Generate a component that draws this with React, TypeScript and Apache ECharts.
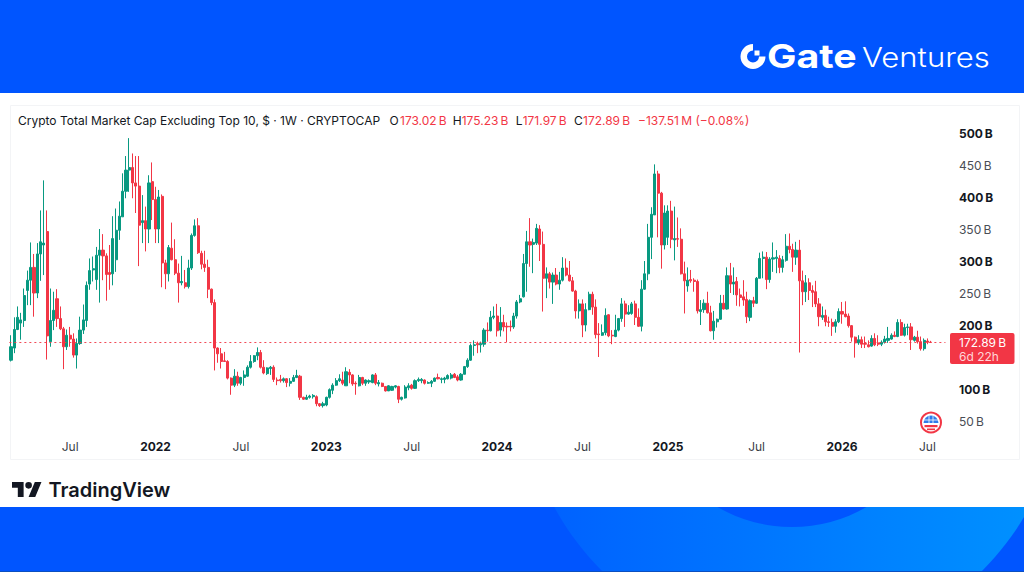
import React, { useEffect, useRef } from "react";
import * as echarts from "echarts";

// Weekly candles as [open, close, low, high], in billions of dollars
const candles2021 = [
  [145,166,143,184],[164,193,156,212],[193,212,192,229],[203,208,177,219],[207,246,197,257],[254,270,231,285],[270,290,231,329],[290,250,213,311],[250,311,242,328],[311,330,269,379],
  [325,328,278,426],[346,183,146,379],[174,207,166,257],[207,223,192,252],[241,210,197,256],[210,194,192,229],[194,166,131,197],[166,184,161,193],[184,178,166,197],[178,153,149,187],
  [153,171,132,179],[171,192,169,213],[192,208,186,232],[207,262,197,268],[264,285,255,304],[286,288,268,307],[271,309,255,322],[309,317,235,350],[317,308,270,342],[308,279,238,312],
  [282,279,255,325],[280,335,262,370],[302,348,283,382],[348,370,333,393],[369,409,369,437],[409,442,398,464],[442,446,408,492],[446,422,398,468],[422,417,375,464],[417,356,292,464],
  [360,363,328,403],[363,350,315,385],[350,422,328,434],[424,396,364,454],
];
const candles2022 = [
  [396,350,328,416],[350,400,328,411],[401,297,259,404],[297,280,256,302],[280,321,268,325],[320,302,301,360],[302,281,278,334],[281,266,235,296],[266,268,262,308],[266,260,257,286],
  [260,289,257,302],[289,340,286,343],[340,355,338,365],[355,313,311,367],[312,295,287,316],[295,290,283,316],[290,256,242,302],[256,235,231,257],[235,164,129,240],[164,155,141,165],
  [155,143,132,164],[144,143,143,158],[143,117,115,145],[117,106,91,118],[106,120,103,131],[120,109,105,127],[109,118,106,119],[118,122,105,129],[120,134,119,137],[134,143,132,153],
  [143,152,141,153],[152,157,145,165],[157,134,132,161],[134,125,123,145],[124,133,122,134],[132,134,122,136],[134,115,111,137],[114,113,106,118],[115,113,110,122],[113,116,110,118],
  [116,110,103,117],[109,112,104,117],[112,118,111,122],[118,121,117,130],[120,87,83,122],[87,84,83,88],[84,87,83,91],[87,89,85,91],[88,90,85,92],[88,77,73,90],
  [77,74,72,78],[74,77,71,80],
];
const candles2023 = [
  [75,87,73,88],[87,99,85,101],[98,106,92,109],[106,113,105,117],[113,116,111,123],[114,109,106,127],[105,127,105,134],[126,122,109,131],[122,108,105,123],[109,108,91,112],
  [105,118,104,122],[118,109,106,119],[109,114,105,115],[111,113,108,115],[110,122,109,123],[122,109,106,125],[108,110,104,114],[109,104,103,110],[104,97,96,104],[97,105,97,106],
  [98,104,97,105],[103,105,101,106],[104,84,78,105],[84,87,82,88],[86,103,85,106],[102,105,98,109],[106,101,99,108],[101,113,100,115],[113,115,111,118],[113,115,109,117],
  [114,109,107,115],[109,110,108,112],[109,112,103,114],[112,117,111,118],[118,116,115,124],[115,116,109,118],[115,117,109,119],[116,121,115,123],[117,122,115,125],[123,118,117,125],
  [119,114,112,122],[114,123,113,125],[123,135,123,136],[135,145,133,148],[145,168,144,171],[168,169,152,176],[171,169,156,174],[169,171,157,174],[170,192,166,195],[192,191,174,204],
  [191,212,190,222],[212,214,209,229],
];
const candles2024 = [
  [214,191,182,233],[192,204,182,228],[204,197,190,216],[198,197,173,204],[198,197,190,207],[197,214,194,219],[214,236,210,239],[236,241,234,247],[244,296,243,311],[296,330,252,347],
  [330,325,291,367],[326,329,281,335],[328,351,325,358],[350,326,300,356],[326,273,221,346],[273,280,242,290],[280,267,257,283],[267,278,233,282],[278,264,262,289],[264,270,255,283],
  [270,289,268,306],[289,278,276,304],[278,269,268,300],[269,253,252,275],[253,222,210,255],[222,233,210,240],[233,200,181,240],[200,224,190,234],[224,248,223,252],[248,228,216,252],
  [228,185,179,240],[186,185,150,203],[184,188,183,201],[188,215,184,226],[216,183,181,217],[184,183,170,192],[182,192,181,216],[192,210,190,211],[210,233,205,242],[233,217,197,238],
  [217,220,216,231],[218,233,216,236],[233,212,200,238],[212,198,197,226],[198,256,190,270],[256,280,255,300],[280,337,270,358],[337,373,303,384],[372,436,372,451],[436,406,337,441],
  [406,325,288,408],[325,375,318,387],
];
const candles2025 = [
  [337,378,325,387],[378,334,320,394],[333,335,301,385],[335,334,322,368],[334,280,279,351],[280,269,218,299],[261,270,252,290],[271,269,266,286],[270,268,252,273],[268,222,218,271],
  [221,224,200,239],[224,234,219,240],[234,219,218,252],[219,191,190,230],[191,206,177,222],[205,209,196,210],[209,234,208,247],[234,225,224,247],[225,277,224,290],[277,264,250,297],
  [264,267,247,290],[268,247,230,275],[247,243,229,257],[244,239,230,270],[240,213,203,252],[212,238,206,240],[238,234,228,244],[234,273,233,275],[273,304,273,313],[304,306,273,315],
  [306,271,256,314],[271,303,266,306],[303,305,283,329],[304,306,281,317],[304,290,281,309],[290,302,282,308],[301,323,299,342],[323,318,312,343],[318,306,283,327],[306,317,294,330],
  [317,269,157,333],[269,252,231,285],[252,266,236,278],[266,254,239,273],[254,251,228,262],[252,233,228,269],[233,213,198,242],[212,215,208,229],[215,205,198,224],[205,204,197,213],
  [204,198,183,210],[198,205,188,209],[205,221,203,226],
];
const candles2026 = [
  [221,217,202,236],[217,213,212,237],[214,199,196,218],[199,181,174,200],[181,172,149,182],[172,177,169,184],[177,170,164,182],[171,170,164,182],[169,166,165,176],[167,179,166,184],
  [179,169,167,187],[172,170,167,184],[170,173,167,176],[173,178,171,183],[176,179,172,197],[178,184,177,187],[184,182,181,190],[182,204,181,209],[204,184,183,209],[184,196,182,202],
  [196,197,184,202],[197,177,161,203],[176,181,174,183],[181,174,171,191],[174,163,160,182],[163,176,160,179],[175,173,170,179],[173.02,172.89,171.97,175.23],
];
const candles = [...candles2021, ...candles2022, ...candles2023, ...candles2024, ...candles2025, ...candles2026];

const emptyWeeksAtRight = 4;
const tickWeeks = [18, 44, 70, 96, 122, 148, 174, 200, 227, 253, 279];
const tickLabels = ["Jul", "2022", "Jul", "2023", "Jul", "2024", "Jul", "2025", "Jul", "2026", "Jul"];
const categories = Array.from({ length: candles.length + emptyWeeksAtRight }, (_, i) => {
  const t = tickWeeks.indexOf(i);
  return t >= 0 ? tickLabels[t] : "";
});

const lastClose = 172.89;
const titleText = "Crypto Total Market Cap Excluding Top 10, $ · 1W · CRYPTOCAP";
const ohlcLetters = ["O", "H", "L", "C"];
const ohlcValues = ["173.02\u202fB", "175.23\u202fB", "171.97\u202fB", "172.89\u202fB"];
const changeText = "−137.51\u202fM (−0.08%)";

const BLUE = "#0055FF";
const UP = "#089981";
const DOWN = "#F23645";
const FONT = "Inter";

const TV_MARK = "M14 22H7V11H0V4h14v18zM28 22h-8l7.5-18h8L28 22zM16 8a4 4 0 1 0 8 0a4 4 0 1 0-8 0z";
const GATE_MARK = "M12.5 0A12.5 12.5 0 1 0 25 12.5H18.5A6 6 0 1 1 12.5 6.5ZM14 6.5H19V11.5H14Z";

function textEl(x: number, y: number, text: string, fill: string, fontSize = 12, fontWeight: any = 400, extra: any = {}) {
  return {
    type: "text", x, y,
    style: { text, fill, fontFamily: FONT, fontSize, fontWeight, textVerticalAlign: "middle", textAlign: "left", ...extra },
  };
}

export default function App() {
  const ref = useRef<HTMLDivElement>(null);
  useEffect(() => {
    const Tv = (echarts.graphic as any).extendPath(TV_MARK, {});
    const Gate = (echarts.graphic as any).extendPath(GATE_MARK, {});
    echarts.graphic.registerShape("tvMark", Tv);
    echarts.graphic.registerShape("gateMark", Gate);

    const chart = echarts.init(ref.current!, undefined, { renderer: "svg" });
    const headerX = [389.5, 452.7, 515.7, 574];
    const valueX = [400, 461.7, 522.7, 583];
    chart.setOption({
      animation: false,
      backgroundColor: "#fff",
      graphic: [
        // bottom band
        { type: "rect", z: -10, shape: { x: 0, y: 507, width: 1024, height: 65 }, style: { fill: BLUE } },
        {
          type: "circle", z: -9, shape: { cx: 792, cy: 379, r: 270 },
          style: {
            fill: new echarts.graphic.LinearGradient(0, 0, 1, 0, [
              { offset: 0, color: "#005FFF" },
              { offset: 1, color: "#0094FF" },
            ]),
          },
        },
        { type: "circle", z: -8, shape: { cx: 792, cy: 378, r: 149 }, style: { fill: BLUE } },
        { type: "rect", z: -7, shape: { x: 0, y: 93, width: 1024, height: 414 }, style: { fill: "#fff" } },
        { type: "rect", z: -6, shape: { x: 0, y: 0, width: 1024, height: 93 }, style: { fill: BLUE } },
        { type: "rect", z: -6, shape: { x: 0, y: 571, width: 1024, height: 1 }, style: { fill: "#0B4FC0" } },
        // chart pane frame
        { type: "rect", z: -5, shape: { x: 10.5, y: 105.5, width: 1009, height: 354 }, style: { fill: "#fff", stroke: "#F3F4F6", lineWidth: 1 } },
        // logos
        { type: "gateMark", z: 5, x: 740.5, y: 44, style: { fill: "#fff" } },
        { ...textEl(0, 0, "Gate", "#fff", 33, 700), x: 767, y: 56.5, scaleX: 1.19 },
        { ...textEl(0, 0, "Ventures", "#fff", 27.5, 300), x: 862, y: 57, scaleX: 1.13 },
        { type: "tvMark", z: 5, x: 12, y: 478.7, scaleX: 0.83, scaleY: 0.83, style: { fill: "#131722" } },
        textEl(48.5, 490, "TradingView", "#131722", 20, 600),
        // legend row
        textEl(18, 120.5, titleText, "#131722", 12),
        ...ohlcLetters.map((l, i) => textEl(headerX[i], 120.5, l, "#131722", 12)),
        ...ohlcValues.map((v, i) => textEl(valueX[i], 120.5, v, DOWN, 12)),
        textEl(638, 120.5, changeText, DOWN, 12),
        // last price tag
        { type: "rect", z: 6, shape: { x: 950, y: 333, width: 64.5, height: 31, r: 2 }, style: { fill: DOWN } },
        { ...textEl(959, 342, "172.89\u202fB", "#fff", 12), z: 7 },
        { ...textEl(959, 356, "6d 22h", "#FFD5D9", 12), z: 7 },
        // flag badge
        { type: "circle", z: 6, shape: { cx: 931, cy: 422.5, r: 10 }, style: { fill: "#fff", stroke: DOWN, lineWidth: 2 } },
        { type: "sector", z: 7, shape: { cx: 931, cy: 423, r: 7.5, r0: 0, startAngle: Math.PI, endAngle: Math.PI * 2 }, style: { fill: "#2F7BEA" } },
        { type: "line", z: 8, shape: { x1: 929, y1: 416, x2: 929, y2: 423 }, style: { stroke: "#fff", lineWidth: 0.8 } },
        { type: "line", z: 8, shape: { x1: 933, y1: 416, x2: 933, y2: 423 }, style: { stroke: "#fff", lineWidth: 0.8 } },
        { type: "line", z: 8, shape: { x1: 924, y1: 420, x2: 938, y2: 420 }, style: { stroke: "#fff", lineWidth: 0.8 } },
        { type: "rect", z: 7, shape: { x: 924.5, y: 425, width: 13, height: 2.2 }, style: { fill: DOWN } },
        { type: "rect", z: 7, shape: { x: 927, y: 428.5, width: 8, height: 1.6 }, style: { fill: DOWN } },
      ],
      grid: { left: 9.36, width: 936.1, top: 133, height: 288, containLabel: false },
      xAxis: {
        type: "category",
        data: categories,
        boundaryGap: true,
        axisLine: { show: false },
        axisTick: { show: false },
        splitLine: { show: false },
        axisLabel: {
          interval: (_: number, v: string) => v !== "",
          margin: 19,
          hideOverlap: false,
          formatter: (v: string) => (v === "Jul" ? `{m|${v}}` : `{y|${v}}`),
          rich: {
            m: { fontFamily: FONT, fontSize: 12, color: "#3a3d45" },
            y: { fontFamily: FONT, fontSize: 12, fontWeight: 700, color: "#131722" },
          },
        },
      },
      yAxis: {
        type: "value",
        position: "right",
        min: 50,
        max: 500,
        interval: 50,
        scale: true,
        axisLine: { show: false },
        axisTick: { show: false },
        splitLine: { show: false },
        axisLabel: {
          inside: false,
          margin: 13.5,
          align: "left",
          formatter: (v: number) => {
            if (v === 150) return "";
            return v % 100 === 0 ? `{b|${v}\u202fB}` : `{r|${v}\u202fB}`;
          },
          rich: {
            b: { fontFamily: FONT, fontSize: 12, fontWeight: 700, color: "#131722" },
            r: { fontFamily: FONT, fontSize: 12, color: "#4a4d55" },
          },
        },
      },
      series: [
        {
          type: "candlestick",
          data: candles,
          barWidth: 2.6,
          clip: false,
          itemStyle: { color: UP, color0: DOWN, borderColor: UP, borderColor0: DOWN, borderWidth: 1, borderColorDoji: DOWN },
          markLine: {
            silent: true,
            symbol: "none",
            label: { show: false },
            lineStyle: { color: DOWN, type: [2, 3], width: 1, opacity: 0.9 },
            data: [{ yAxis: lastClose }],
          },
        },
      ],
    });
    return () => chart.dispose();
  }, []);
  return <div ref={ref} style={{ position: "fixed", left: 0, top: 0, width: 1024, height: 572 }} />;
}
